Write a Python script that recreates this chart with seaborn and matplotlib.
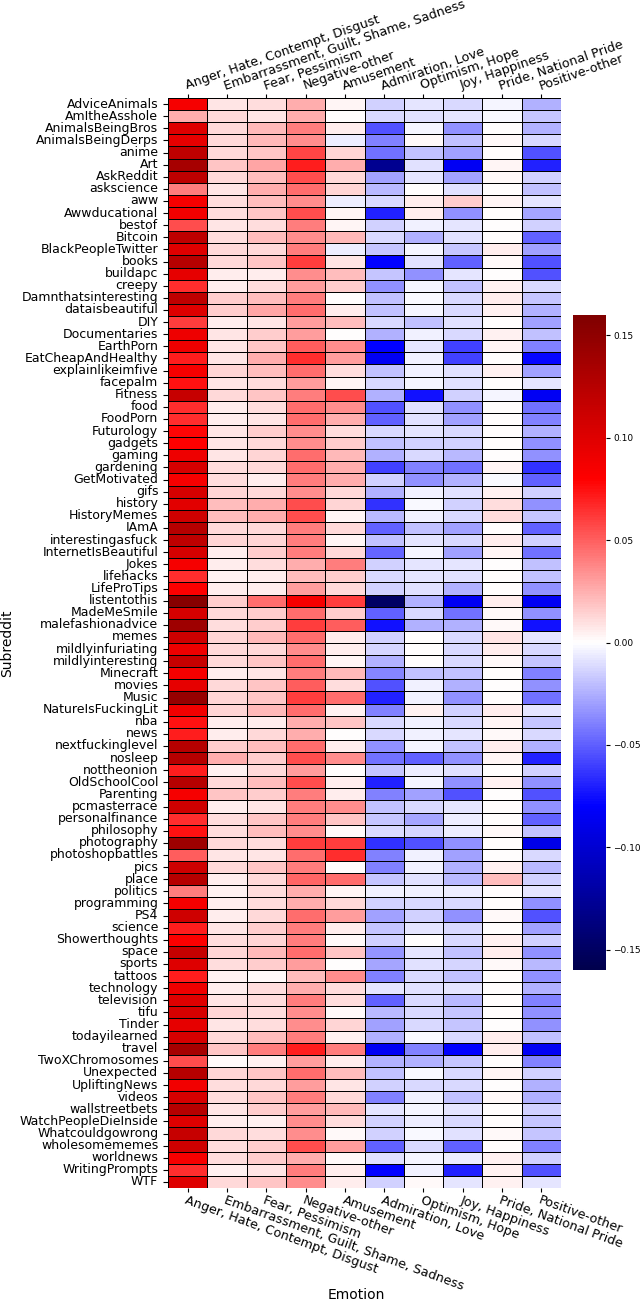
import numpy as np
import pandas as pd
import seaborn as sns
import matplotlib
matplotlib.use('Agg')
import matplotlib.pyplot as plt

subreddits = ['AdviceAnimals', 'AmItheAsshole', 'AnimalsBeingBros', 'AnimalsBeingDerps', 'anime',
              'Art', 'AskReddit', 'askscience', 'aww', 'Awwducational', 'bestof', 'Bitcoin',
              'BlackPeopleTwitter', 'books', 'buildapc', 'creepy', 'Damnthatsinteresting',
              'dataisbeautiful', 'DIY', 'Documentaries', 'EarthPorn', 'EatCheapAndHealthy',
              'explainlikeimfive', 'facepalm', 'Fitness', 'food', 'FoodPorn', 'Futurology',
              'gadgets', 'gaming', 'gardening', 'GetMotivated', 'gifs', 'history', 'HistoryMemes',
              'IAmA', 'interestingasfuck', 'InternetIsBeautiful', 'Jokes', 'lifehacks',
              'LifeProTips', 'listentothis', 'MadeMeSmile', 'malefashionadvice', 'memes',
              'mildlyinfuriating', 'mildlyinteresting', 'Minecraft', 'movies', 'Music',
              'NatureIsFuckingLit', 'nba', 'news', 'nextfuckinglevel', 'nosleep', 'nottheonion',
              'OldSchoolCool', 'Parenting', 'pcmasterrace', 'personalfinance', 'philosophy',
              'photography', 'photoshopbattles', 'pics', 'place', 'politics', 'programming',
              'PS4', 'science', 'Showerthoughts', 'space', 'sports', 'tattoos', 'technology',
              'television', 'tifu', 'Tinder', 'todayilearned', 'travel', 'TwoXChromosomes',
              'Unexpected', 'UpliftingNews', 'videos', 'wallstreetbets', 'WatchPeopleDieInside',
              'Whatcouldgowrong', 'wholesomememes', 'worldnews', 'WritingPrompts', 'WTF']

emotions = ['Anger, Hate, Contempt, Disgust', 'Embarrassment, Guilt, Shame, Sadness',
            'Fear, Pessimism', 'Negative-other', 'Amusement', 'Admiration, Love',
            'Optimism, Hope', 'Joy, Happiness', 'Pride, National Pride', 'Positive-other']

anger = [0.085, 0.025, 0.1, 0.095, 0.12, 0.135, 0.12, 0.04, 0.085, 0.088,
         0.055, 0.12, 0.1, 0.125, 0.095, 0.065, 0.12, 0.1, 0.06, 0.09,
         0.09, 0.07, 0.085, 0.075, 0.115, 0.065, 0.065, 0.078, 0.08, 0.09,
         0.105, 0.085, 0.105, 0.098, 0.11, 0.125, 0.12, 0.105, 0.085, 0.065,
         0.082, 0.155, 0.105, 0.14, 0.11, 0.09, 0.115, 0.085, 0.095, 0.145,
         0.088, 0.075, 0.07, 0.125, 0.125, 0.07, 0.125, 0.085, 0.11, 0.065,
         0.075, 0.14, 0.05, 0.11, 0.125, 0.04, 0.085, 0.11, 0.07, 0.082,
         0.115, 0.1, 0.07, 0.09, 0.1, 0.105, 0.095, 0.105, 0.135, 0.055,
         0.125, 0.088, 0.105, 0.125, 0.1, 0.115, 0.11, 0.085, 0.065, 0.1]
embarrassment = [0.008, 0.012, 0.012, 0.012, 0.012, 0.018, 0.012, 0.008, 0.01, 0.01,
                 0.008, 0.01, 0.012, 0.012, 0.005, 0.006, 0.015, 0.015, 0.005, 0.008,
                 0.008, 0.008, 0.013, 0.008, 0.012, 0.006, 0.006, 0.008, 0.008, 0.008,
                 0.01, 0.01, 0.013, 0.02, 0.02, 0.012, 0.013, 0.005, 0.006, 0.004,
                 0.005, 0.015, 0.012, 0.01, 0.013, 0.012, 0.012, 0.006, 0.012, 0.013,
                 0.013, 0.006, 0.006, 0.015, 0.025, 0.004, 0.012, 0.018, 0.006, 0.01,
                 0.01, 0.012, 0.008, 0.012, 0.006, 0.004, 0.006, 0.006, 0.008, 0.01,
                 0.013, 0.01, 0.004, 0.006, 0.008, 0.013, 0.008, 0.012, 0.018, 0.002,
                 0.013, 0.01, 0.01, 0.008, 0.006, 0.012, 0.01, 0.01, 0.004, 0.012]
fear = [0.01, 0.008, 0.022, 0.022, 0.018, 0.028, 0.02, 0.025, 0.02, 0.018,
        0.01, 0.02, 0.012, 0.018, 0.005, 0.01, 0.02, 0.028, 0.008, 0.015,
        0.018, 0.025, 0.02, 0.01, 0.018, 0.01, 0.008, 0.015, 0.012, 0.013,
        0.012, 0.006, 0.012, 0.025, 0.025, 0.012, 0.013, 0.015, 0.01, 0.006,
        0.006, 0.045, 0.015, 0.015, 0.022, 0.012, 0.018, 0.008, 0.018, 0.018,
        0.022, 0.006, 0.012, 0.02, 0.015, 0.012, 0.02, 0.015, 0.008, 0.018,
        0.02, 0.01, 0.008, 0.018, 0.012, 0.01, 0.01, 0.012, 0.015, 0.013,
        0.022, 0.015, 0.002, 0.01, 0.01, 0.01, 0.01, 0.02, 0.04, 0.004,
        0.018, 0.012, 0.018, 0.015, 0.004, 0.01, 0.015, 0.015, 0.008, 0.018]
negative_other = [0.025, 0.025, 0.04, 0.035, 0.058, 0.07, 0.055, 0.045, 0.035, 0.055,
                  0.04, 0.035, 0.04, 0.06, 0.035, 0.03, 0.04, 0.045, 0.03, 0.03,
                  0.05, 0.065, 0.045, 0.03, 0.04, 0.045, 0.045, 0.035, 0.035, 0.045,
                  0.045, 0.04, 0.035, 0.055, 0.055, 0.04, 0.04, 0.04, 0.025, 0.02,
                  0.03, 0.085, 0.045, 0.06, 0.045, 0.035, 0.045, 0.04, 0.05, 0.06,
                  0.045, 0.025, 0.025, 0.045, 0.055, 0.03, 0.055, 0.04, 0.04, 0.04,
                  0.035, 0.06, 0.045, 0.04, 0.048, 0.025, 0.025, 0.045, 0.04, 0.04,
                  0.045, 0.03, 0.02, 0.025, 0.04, 0.035, 0.035, 0.04, 0.07, 0.03,
                  0.045, 0.03, 0.04, 0.03, 0.035, 0.035, 0.055, 0.025, 0.04, 0.035]
amusement = [0.003, 0.0, 0.005, -0.006, 0.013, 0.025, 0.012, 0.013, -0.006, 0.003,
             0.003, 0.022, -0.006, 0.008, 0.02, 0.015, 0.0, 0.005, 0.02, 0.0,
             0.035, 0.03, 0.01, 0.003, 0.055, 0.035, 0.025, 0.01, 0.015, 0.022,
             0.025, 0.025, 0.012, 0.013, 0.003, 0.012, 0.003, 0.012, 0.04, 0.015,
             0.012, 0.06, 0.015, 0.05, 0.005, 0.005, 0.003, 0.022, 0.01, 0.045,
             0.004, 0.018, 0.0, 0.006, 0.035, 0.0, 0.006, 0.006, 0.035, 0.018,
             0.002, 0.06, 0.065, 0.0, 0.045, 0.003, 0.012, 0.03, 0.005, 0.002,
             0.018, 0.0, 0.035, 0.01, 0.01, 0.002, 0.013, 0.004, 0.04, 0.006,
             0.02, 0.008, 0.012, 0.022, 0.01, 0.002, 0.03, 0.002, 0.005, 0.006]
admiration = [-0.015, -0.012, -0.055, -0.04, -0.045, -0.13, -0.03, -0.022, -0.012, -0.07,
              -0.015, -0.012, -0.018, -0.08, -0.018, -0.035, -0.02, -0.02, -0.012, -0.025,
              -0.08, -0.085, -0.02, -0.012, -0.025, -0.055, -0.05, -0.012, -0.02, -0.025,
              -0.06, -0.015, -0.025, -0.065, -0.022, -0.05, -0.02, -0.048, -0.015, -0.012,
              -0.015, -0.15, -0.05, -0.075, -0.015, -0.013, -0.025, -0.038, -0.055, -0.07,
              -0.04, -0.012, -0.012, -0.035, -0.045, -0.018, -0.07, -0.04, -0.02, -0.018,
              -0.012, -0.065, -0.04, -0.04, -0.018, -0.004, -0.015, -0.03, -0.018, -0.015,
              -0.033, -0.028, -0.04, -0.008, -0.05, -0.022, -0.03, -0.025, -0.085, -0.025,
              -0.02, -0.015, -0.04, -0.008, -0.015, -0.015, -0.05, -0.01, -0.08, -0.015]
optimism = [-0.008, -0.01, -0.003, 0.002, -0.02, -0.01, -0.008, 0.0, 0.006, 0.006,
            -0.005, -0.025, -0.003, -0.01, -0.035, -0.003, -0.002, -0.003, -0.02, -0.005,
            -0.008, -0.005, -0.005, -0.003, -0.075, -0.01, -0.01, -0.008, -0.015, -0.012,
            -0.04, -0.035, -0.005, -0.002, -0.005, -0.02, -0.008, -0.003, -0.008, -0.008,
            -0.01, -0.025, -0.012, -0.025, 0.0, 0.0, 0.0, -0.02, -0.005, -0.004,
            0.004, -0.005, -0.005, -0.003, -0.05, -0.006, -0.003, -0.03, -0.012, -0.028,
            -0.013, -0.055, -0.005, -0.004, -0.01, -0.004, -0.012, -0.015, -0.008, 0.0,
            -0.008, -0.01, -0.012, -0.01, -0.012, -0.012, -0.012, -0.002, -0.04, -0.025,
            -0.002, -0.012, -0.004, -0.003, -0.006, -0.002, -0.012, -0.003, -0.004, 0.002]
joy = [-0.012, -0.008, -0.035, -0.02, -0.03, -0.085, -0.03, -0.01, 0.016, -0.035,
       -0.008, -0.01, -0.018, -0.05, -0.008, -0.02, -0.012, -0.012, -0.01, -0.012,
       -0.06, -0.06, -0.01, -0.01, -0.015, -0.035, -0.03, -0.012, -0.015, -0.022,
       -0.045, -0.025, -0.01, -0.015, -0.012, -0.03, -0.012, -0.03, -0.008, -0.01,
       -0.025, -0.085, -0.045, -0.025, -0.012, -0.012, -0.012, -0.02, -0.025, -0.035,
       -0.015, -0.012, -0.008, -0.02, -0.035, -0.01, -0.035, -0.055, -0.008, -0.006,
       -0.006, -0.035, -0.03, -0.025, -0.022, -0.006, -0.012, -0.035, -0.012, -0.012,
       -0.02, -0.013, -0.02, -0.008, -0.022, -0.018, -0.018, -0.012, -0.08, -0.018,
       -0.012, -0.012, -0.02, -0.008, -0.012, -0.01, -0.05, -0.006, -0.07, -0.008]
pride = [-0.003, -0.002, 0.0, 0.002, 0.0, 0.003, 0.002, 0.0, 0.003, 0.0,
         0.0, 0.0, 0.005, 0.002, 0.0, 0.004, 0.006, 0.004, 0.0, 0.004,
         0.003, 0.0, 0.004, 0.0, -0.003, 0.0, 0.0, 0.0, 0.0, 0.0,
         0.003, -0.002, 0.004, 0.01, 0.01, 0.0, 0.006, 0.003, 0.0, 0.0,
         0.0, 0.005, 0.002, 0.002, 0.008, 0.005, 0.002, 0.0, 0.0, 0.0,
         0.006, 0.003, 0.002, 0.005, 0.003, 0.0, 0.004, 0.0, 0.0, 0.0,
         0.002, 0.0, 0.0, 0.004, 0.02, 0.0, 0.0, 0.002, 0.0, 0.004,
         0.005, 0.002, 0.0, 0.0, 0.0, 0.0, 0.0, 0.006, 0.006, 0.0,
         0.003, 0.0, 0.002, 0.0, 0.0, 0.002, 0.0, 0.004, 0.004, 0.004]
positive_other = [-0.025, -0.018, -0.025, -0.012, -0.055, -0.07, -0.015, -0.02, -0.008, -0.028,
                  -0.015, -0.05, -0.03, -0.055, -0.055, -0.012, -0.018, -0.025, -0.03, -0.02,
                  -0.04, -0.078, -0.03, -0.008, -0.085, -0.045, -0.04, -0.025, -0.035, -0.035,
                  -0.065, -0.05, -0.015, -0.035, -0.018, -0.05, -0.015, -0.045, -0.02, -0.02,
                  -0.035, -0.085, -0.035, -0.075, -0.008, -0.012, -0.018, -0.04, -0.035, -0.045,
                  -0.008, -0.018, -0.012, -0.025, -0.07, -0.015, -0.035, -0.055, -0.035, -0.05,
                  -0.02, -0.09, -0.012, -0.022, -0.015, -0.008, -0.035, -0.055, -0.03, -0.015,
                  -0.035, -0.022, -0.035, -0.025, -0.04, -0.035, -0.035, -0.02, -0.085, -0.04,
                  -0.015, -0.025, -0.025, -0.015, -0.018, -0.018, -0.04, -0.015, -0.055, -0.008]

df = pd.DataFrame(
    np.column_stack([anger, embarrassment, fear, negative_other, amusement,
                     admiration, optimism, joy, pride, positive_other]),
    index=pd.Index(subreddits, name='Subreddit'),
    columns=pd.Index(emotions, name='Emotion'))

fig = plt.figure(figsize=(6.4, 13.04), dpi=100)
ax = fig.add_axes([168 / 640, 1 - 1188 / 1304, 393 / 640, 1090 / 1304])
cax = fig.add_axes([573 / 640, 1 - 970 / 1304, 33 / 640, 655 / 1304])

sns.heatmap(df, cmap='seismic', vmin=-0.16, vmax=0.16, center=0,
            linewidths=0.7, linecolor='black', xticklabels=1, yticklabels=1,
            ax=ax, cbar_ax=cax)

ax.tick_params(axis='x', top=True, labeltop=True, labelsize=9.2, length=3, pad=1)
ax.tick_params(axis='y', labelsize=9, labelrotation=0)
for t in ax.xaxis.get_major_ticks():
    t.label1.set_rotation(-20)
    t.label1.set_ha('left')
    t.label1.set_rotation_mode('anchor')
    t.label2.set_rotation(19)
    t.label2.set_ha('left')
    t.label2.set_rotation_mode('anchor')
ax.set_xlabel('Emotion', fontsize=10)
ax.set_ylabel('Subreddit', fontsize=10)
ax.xaxis.set_label_coords(0.48, -0.092)
ax.yaxis.set_label_coords(-0.392, 0.5)
cax.tick_params(labelsize=6.5, length=3, pad=2)

fig.savefig('out.png', dpi=100)
